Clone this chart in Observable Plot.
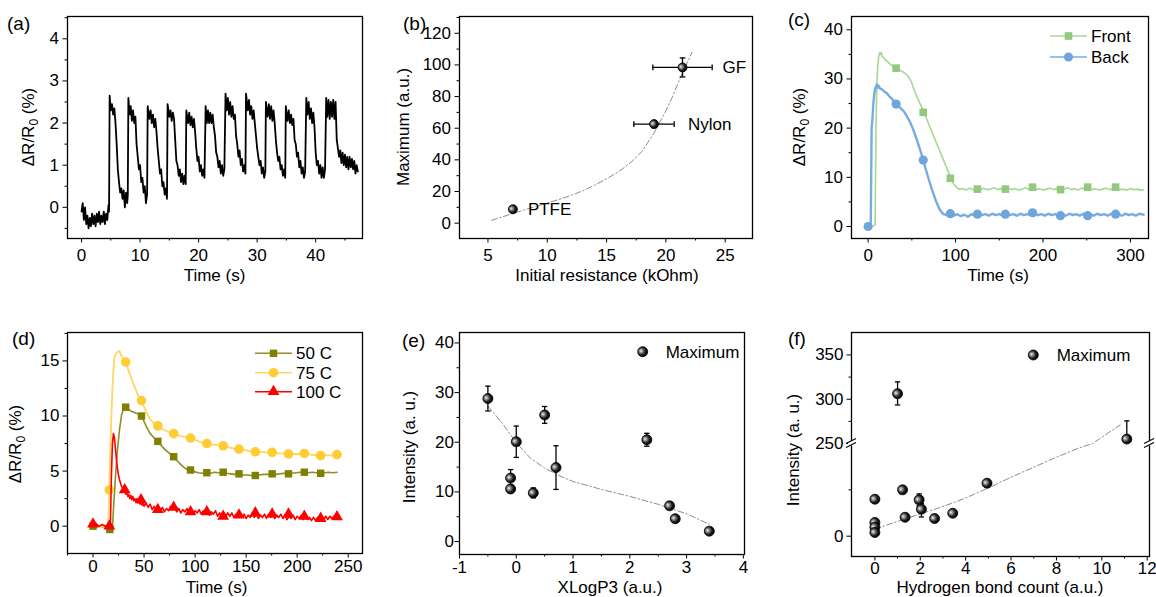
<!DOCTYPE html>
<html><head><meta charset="utf-8">
<script src="https://cdn.jsdelivr.net/npm/d3@7"></script>
<script src="https://cdn.jsdelivr.net/npm/@observablehq/plot@0.6"></script>
<style>
html,body{margin:0;padding:0;background:#fff;}
#fig{position:relative;width:1156px;height:597px;overflow:hidden;background:#fff;}
.panel{position:absolute;}
.panel svg{display:block;max-width:none;}
</style></head><body><div id="fig"></div>
<script>
// ---------------- DATA ----------------
// (a) repeated response, [time s, dR/R0 %]
const aSignal = [
[0.0,-0.1],[0.2,0.1],[0.4,-0.3],[0.6,0.0],[0.8,-0.4],[1.0,-0.2],[1.2,-0.5],[1.4,-0.25],[1.6,-0.45],[1.8,-0.15],[2.0,-0.4],[2.2,-0.2],[2.4,-0.45],[2.6,-0.15],[2.8,-0.35],[3.0,-0.1],[3.2,-0.4],[3.4,-0.2],[3.6,-0.35],[3.8,-0.1],[4.0,-0.4],[4.2,-0.15],[4.4,-0.3],[4.6,0.05],[4.7,-0.1],
[4.8,2.65],[5.0,2.3],[5.2,2.45],[5.4,2.2],[5.6,2.35],[5.8,2.0],[6.0,1.5],[6.2,0.9],[6.4,0.6],[6.6,0.35],[6.8,0.45],[7.0,0.2],[7.2,0.4],[7.4,0.0],[7.6,0.35],[7.8,0.1],[7.9,0.3],
[8.0,2.6],[8.2,2.2],[8.4,2.4],[8.6,2.05],[8.8,2.3],[9.0,2.0],[9.2,2.15],[9.4,1.5],[9.6,1.2],[9.8,0.9],[10.0,1.0],[10.2,0.6],[10.4,0.7],[10.6,0.35],[10.8,0.5],[11.0,0.1],[11.2,0.3],
[11.3,2.4],[11.6,2.1],[11.8,2.3],[12.0,2.0],[12.2,2.2],[12.4,1.9],[12.6,2.1],[12.8,1.8],[13.0,1.4],[13.2,1.1],[13.4,0.8],[13.6,0.9],[13.8,0.5],[14.0,0.6],[14.2,0.3],[14.4,0.45],[14.6,0.2],
[14.7,2.45],[15.0,2.15],[15.2,2.3],[15.4,2.05],[15.6,2.25],[15.8,2.1],[16.0,1.6],[16.2,1.1],[16.4,1.0],[16.6,0.75],[16.8,0.9],[17.0,0.6],[17.2,0.8],[17.4,0.55],[17.6,0.75],[17.8,0.55],
[17.9,2.3],[18.2,2.0],[18.4,2.25],[18.6,1.95],[18.8,2.15],[19.0,1.9],[19.2,2.1],[19.4,1.8],[19.6,1.4],[19.8,1.1],[20.0,1.2],[20.2,0.85],[20.4,1.0],[20.6,0.75],[20.8,0.9],[21.0,0.7],
[21.2,2.4],[21.4,2.0],[21.6,2.3],[21.8,2.0],[22.0,2.25],[22.2,2.0],[22.4,2.2],[22.6,1.9],[22.8,1.7],[23.0,1.3],[23.2,1.2],[23.4,0.95],[23.6,1.1],[23.8,0.8],[24.0,1.0],[24.2,0.75],[24.4,0.9],
[24.6,2.7],[24.8,2.3],[25.0,2.6],[25.2,2.2],[25.4,2.5],[25.6,2.15],[25.8,2.4],[26.0,2.1],[26.2,2.2],[26.4,1.7],[26.6,1.5],[26.8,1.2],[27.0,1.35],[27.2,1.0],[27.4,1.15],[27.6,0.85],[27.8,1.0],[28.0,0.8],
[28.1,2.7],[28.4,2.3],[28.6,2.55],[28.8,2.2],[29.0,2.4],[29.2,2.1],[29.4,2.3],[29.6,2.0],[29.8,1.7],[30.0,1.4],[30.2,1.2],[30.4,1.0],[30.6,1.1],[30.8,0.8],[31.0,0.95],[31.2,0.7],[31.4,0.85],
[31.5,2.5],[31.8,2.15],[32.0,2.45],[32.2,2.1],[32.4,2.4],[32.6,2.05],[32.8,2.3],[33.0,2.0],[33.2,1.6],[33.4,1.3],[33.6,1.1],[33.8,1.2],[34.0,0.9],[34.2,1.0],[34.4,0.75],[34.6,0.9],[34.8,0.7],
[34.9,2.4],[35.2,2.05],[35.4,2.3],[35.6,2.0],[35.8,2.2],[36.0,1.95],[36.2,2.1],[36.4,1.6],[36.6,1.5],[36.8,1.2],[37.0,1.3],[37.2,0.95],[37.4,1.1],[37.6,0.8],[37.8,0.95],[38.0,0.7],[38.2,0.85],
[38.4,2.6],[38.6,2.2],[38.8,2.5],[39.0,2.1],[39.2,2.35],[39.4,2.0],[39.6,2.25],[39.8,1.9],[40.0,1.3],[40.2,1.0],[40.4,1.1],[40.6,0.8],[40.8,1.0],[41.0,0.7],[41.2,0.95],[41.4,0.7],[41.6,0.9],
[41.8,2.6],[42.0,2.15],[42.2,2.55],[42.4,2.1],[42.6,2.5],[42.8,2.15],[43.0,2.55],[43.2,2.1],[43.4,2.5],[43.6,1.6],[43.8,1.4],[44.0,1.2],[44.2,1.35],[44.4,1.05],[44.6,1.3],[44.8,1.0],[45.0,1.25],[45.2,0.95],[45.4,1.2],[45.6,0.9],[45.8,1.2],[46.0,0.95],[46.2,1.15],[46.4,0.9],[46.6,1.1],[46.8,0.8],[47.0,1.0],[47.2,0.85]
];

// (b) Maximum vs initial resistance
const bNames = ["PTFE", "Nylon", "GF"];
const bResistance = [7.1, 19.0, 21.4];
const bMaximum = [8.8, 62.6, 98.4];
const bResErr = [0.0, 1.7, 2.5];
const bMaxErr = [0.0, 2.2, 6.0];
const bFit = [[5.3,1.8],[6,3.5],[7,5.8],[8,8.2],[9,10.5],[10,12.8],[11,15.0],[12,17.5],[13,20.5],[14,24],[15,28],[16,32.5],[17,38],[18,45.5],[19,57],[19.5,64],[20,71],[20.5,79],[21,88],[21.5,97],[22,104.5],[22.2,108]];

// (c) Front / Back, [time s, dR/R0 %]
const cFront = [[0,0],[4,0],[8,0.3],[9,20],[10,29],[11,32.5],[12,34.5],[13,35.3],[14,35.0],[15,35.4],[16,34.6],[18,34.3],[20,33.8],[22,33.6],[24,33.2],[26,32.9],[28,32.6],[30,32.4],[32,32.2],[35,31.9],[38,31.6],[41,31.3],[44,30.9],[47,30.2],[50,29.2],[53,27.6],[56,26.3],[59,25.1],[62,24.0],[65,22.8],[68,21.4],[71,20.0],[74,18.8],[77,17.5],[80,16.2],[83,14.9],[86,13.6],[89,12.3],[92,11.0],[95,9.7],[98,8.6],[101,8.0],[104,7.6],
[108,7.7],[112,7.4],[116,7.8],[120,7.5],[124,7.7],[128,7.4],[132,7.8],[136,7.5],[140,7.6],[144,7.9],[148,7.5],[152,7.7],[156,7.4],[160,7.8],[164,7.5],[168,7.7],[172,7.4],[176,7.6],[180,7.9],[184,7.5],[188,7.8],[192,7.5],[196,7.7],[200,7.4],[204,7.6],[208,7.8],[212,7.5],[216,7.7],[220,7.4],[224,7.6],[228,7.9],[232,7.5],[236,7.7],[240,7.4],[244,7.8],[248,7.6],[252,7.9],[256,7.5],[260,7.7],[264,7.4],[268,7.6],[272,7.8],[276,7.5],[280,7.7],[284,7.9],[288,7.5],[292,7.6],[296,7.4],[300,7.7],[304,7.5],[308,7.6],[312,7.4],[315,7.5]];
const cBack = [[0,0],[3,0],[3.5,10],[4,20],[5,22],[6,25],[7,27],[8,28],[9,28.5],[10,28.9],[11,28.2],[12,28.6],[14,28.0],[16,27.9],[18,27.5],[20,27.3],[22,27.0],[24,26.5],[26,26.2],[28,25.8],[30,25.3],[32,24.9],[34,24.6],[36,24.3],[38,23.9],[40,23.6],[42,23.1],[44,22.5],[46,21.9],[48,21.2],[50,20.4],[52,19.5],[55,18.0],[58,16.4],[60,15.3],[63,13.5],[66,11.6],[70,9.2],[74,7.0],[78,5.0],[82,3.4],[86,2.5],[90,2.3],
[94,2.6],[98,2.2],[102,2.5],[106,2.1],[110,2.4],[114,2.0],[118,2.5],[122,2.2],[126,2.6],[130,2.3],[134,2.5],[138,2.2],[142,2.6],[146,2.3],[150,2.5],[154,2.2],[158,2.6],[162,2.3],[166,2.5],[170,2.2],[174,2.6],[178,2.3],[182,2.5],[186,2.4],[190,2.8],[194,2.3],[198,2.5],[202,2.2],[206,2.6],[210,2.3],[214,2.5],[218,2.2],[222,2.4],[226,2.2],[230,2.6],[234,2.3],[238,2.5],[242,2.2],[246,2.6],[250,2.3],[254,2.5],[258,2.2],[262,2.6],[266,2.3],[270,2.5],[274,2.2],[278,2.6],[282,2.4],[286,2.5],[290,2.2],[294,2.6],[298,2.3],[302,2.5],[306,2.2],[310,2.6],[315,2.4]];
const cFrontMarks = [[32,32.2],[63,23.2],[94,9.8],[125,7.6],[157,7.6],[188,8.0],[220,7.5],[251,8.0],[283,8.0]];
const cBackMarks = [[0,0],[32,24.9],[63,13.5],[94,2.6],[125,2.5],[157,2.5],[188,2.8],[220,2.2],[251,2.2],[283,2.5]];

// (d) temperature series
const d50 = [[0,0],[5,0.0],[10,-0.05],[15,-0.1],[17,-0.3],[19,-0.25],[20,1.5],[22,4.5],[24,7],[26,8.8],[28,10.1],[30,10.7],[32,10.8],[35,10.6],[38,10.4],[41,10.3],[44,10.2],[47.5,10.0],[50,9.5],[53,8.9],[56,8.4],[60,8.0],[63.5,7.7],[67,7.3],[71,6.9],[75,6.6],[79,6.3],[83,5.9],[87,5.5],[91,5.2],[95.5,5.1],[99,4.95],[103,4.85],[107,4.8],[111.5,4.85],[115,4.8],[119,4.9],[123,4.85],[127.5,4.9],[131,4.8],[135,4.75],[139,4.7],[143,4.75],[147,4.65],[151,4.65],[155,4.6],[159,4.6],[163,4.65],[167,4.7],[171,4.7],[175.5,4.75],[179,4.7],[183,4.75],[187,4.8],[191.5,4.75],[195,4.8],[199,4.85],[203,4.9],[207,4.9],[211,4.85],[215,4.9],[219,4.85],[223,4.8],[227,4.85],[231,4.9],[235,4.85],[239,4.9]];
const d75 = [[0,0],[4,0.05],[8,-0.05],[12,0.0],[15,0.1],[15.8,3.3],[17,7],[18,10],[19,12.5],[20,14.2],[21,15.2],[22,15.6],[24,15.8],[26,15.9],[27,15.6],[29,15.3],[32,14.9],[35,14.1],[38,13.3],[41,12.6],[44,11.9],[47.5,11.4],[50,10.8],[53,10.2],[56,9.7],[60,9.3],[63.5,9.1],[68,8.8],[73,8.6],[79,8.4],[85,8.2],[90,8.1],[95.5,8.0],[101,7.8],[106,7.6],[111.5,7.5],[117,7.4],[122,7.35],[127.5,7.3],[133,7.15],[138,7.05],[143,7.0],[149,6.9],[154,6.8],[159,6.75],[165,6.75],[170,6.7],[175.5,6.7],[181,6.6],[186,6.6],[191.5,6.55],[197,6.55],[202,6.55],[207,6.6],[213,6.5],[218,6.45],[223,6.4],[228,6.45],[233,6.4],[239,6.45]];
const d100 = [[0,0.1],[3,0.2],[6,0.0],[9,0.15],[12,0.0],[15,0.1],[17,0.1],[18,4.5],[19,7.5],[20,8.4],[21,8.0],[22,7.0],[23,6.0],[24,5.2],[25,4.6],[26,4.2],[27,3.9],[28,3.6],[29,3.5],[30,3.2],[31,3.4],[32,2.9],[33,3.1],[34,2.7],[35,2.9],[36,2.5],[37,2.8],[38,2.4],[39,2.7],[40,2.3],[41,2.5],[42,2.2],[43,2.5],[44,2.1],[45,2.4],[46,2.0],[47,2.4],[48,1.9],[49,2.2],[50,1.8],[52,2.1],[54,1.7],[56,2.0],[58,1.5],[60,1.8],[62,1.4],[64,1.7],[66,1.4],[68,1.7],[70,1.3],[72,1.6],[74,1.4],[76,1.8],[78,1.5],[80,1.7],[82,1.3],[84,1.6],[86,1.2],[88,1.5],[90,1.3],[92,1.6],[94,1.2],[96,1.5],[98,1.1],[100,1.4],[102,1.2],[104,1.5],[106,1.1],[108,1.4],[110,1.2],[112,1.5],[114,1.0],[116,1.3],[118,1.1],[120,1.4],[122,0.9],[124,1.2],[126,0.8],[128,1.2],[130,0.9],[132,1.2],[134,0.9],[136,1.2],[138,0.8],[140,1.1],[142,0.9],[144,1.2],[146,0.8],[148,1.1],[150,0.7],[152,1.0],[154,0.8],[156,1.2],[158,0.8],[160,1.1],[162,0.7],[164,1.0],[166,0.8],[168,1.1],[170,0.7],[172,1.1],[174,0.8],[176,1.0],[178,0.7],[180,1.0],[182,0.8],[184,1.1],[186,0.7],[188,1.0],[190,0.6],[192,0.9],[194,0.7],[196,1.0],[198,0.6],[200,0.9],[202,0.7],[204,1.0],[206,0.6],[208,0.9],[210,0.6],[212,0.8],[214,0.5],[216,0.8],[218,0.5],[220,0.8],[222,0.6],[224,0.9],[226,0.6],[228,0.9],[230,0.6],[232,0.9],[234,0.7],[236,0.9],[238,0.7]];
const d50Marks = [[0,0],[16.5,-0.3],[32,10.8],[47.5,10.0],[63.5,7.7],[79,6.3],[95.5,5.1],[111.5,4.85],[127.5,4.9],[143,4.75],[159,4.6],[175.5,4.75],[191.5,4.75],[207,4.9],[223,4.8]];
const d75Marks = [[16,3.3],[32,14.9],[47.5,11.4],[63.5,9.1],[79,8.4],[95.5,8.0],[111.5,7.5],[127.5,7.3],[143,7.0],[159,6.75],[175.5,6.7],[191.5,6.55],[207,6.6],[223,6.4],[239,6.5]];
const d100Marks = [[0,0.2],[16,0.0],[31,3.3],[47,2.4],[63.5,1.5],[79,1.7],[95.5,1.3],[111.5,1.3],[127.5,0.9],[143,1.0],[159,1.2],[175.5,1.1],[191.5,1.1],[207,0.9],[223,0.7],[239,0.85]];

// (e) Intensity vs XLogP3
const eXLogP3 = [-0.5, -0.1, -0.1, 0.0, 0.3, 0.5, 0.7, 2.3, 2.7, 2.8, 3.4];
const eIntensity = [28.8, 12.8, 10.6, 20.1, 9.8, 25.5, 14.9, 20.5, 7.2, 4.6, 2.1];
const eError = [2.5, 1.7, 0.8, 3.15, 1.0, 1.7, 4.4, 1.3, 0.4, 0.4, 0.2];
const eFit = [[-0.5,27.3],[-0.25,23.9],[0,19.9],[0.25,16.8],[0.5,14.8],[0.75,13.3],[1,12.1],[1.5,10.5],[2,9.1],[2.5,7.5],[3,5.6],[3.4,3.5]];

// (f) Intensity vs hydrogen bond count (broken axis 250)
const fHBond = [0, 0, 0, 0, 1.0, 1.22, 1.33, 1.95, 2.05, 2.63, 3.43, 4.94, 11.1];
const fIntensity = [99.7, 36.9, 24.3, 10, 306.2, 125, 51, 98, 72.8, 47.7, 62, 142.9, 255];
const fErrLow = [0, 0, 0, 0, 12.7, 0, 0, 16, 21, 0, 0, 0, 0];
const fErrHigh = [0, 0, 0, 0, 13.4, 0, 0, 16, 15, 0, 0, 0, 20.5];
const fFit = [[0,18.9],[1,40],[2,60],[3,80],[4,103],[5,130],[6,159],[7,186],[8,213],[9,238],[9.6,250],[10,257],[10.4,264],[10.8,271]];

// ---------------- HELPERS ----------------
const FONT = '"Liberation Sans", Arial, Helvetica, sans-serif';
const FS = 17;
const fmt = d => String(d);
const capH = {draw(ctx, size) { const w = Math.sqrt(size) / 2; ctx.moveTo(-w, 0); ctx.lineTo(w, 0); }};
const capV = {draw(ctx, size) { const w = Math.sqrt(size) / 2; ctx.moveTo(0, -w); ctx.lineTo(0, w); }};
const px = d => d[0], py = d => d[1];

function buildPanel(p) {
  const [ml, mr, mt, mb] = p.margin;
  const y = {domain: p.yDomain, label: null};
  if (p.yRange) { y.type = "linear"; y.range = p.yRange; }
  const plot = Plot.plot({
    width: p.width, height: p.height,
    marginLeft: ml, marginRight: mr, marginTop: mt, marginBottom: mb,
    style: {fontFamily: FONT, fontSize: FS + "px", color: "#000", background: "none", overflow: "visible"},
    x: {domain: p.xDomain, label: null},
    y,
    marks: [
      Plot.axisX({ticks: p.xMinor, tickSize: 2.5, tickFormat: () => "", label: null}),
      Plot.axisX({ticks: p.xTicks, tickSize: 4.5, tickPadding: p.xPad, tickFormat: fmt, fontSize: FS, label: null}),
      Plot.axisY({ticks: p.yMinor, tickSize: 2.5, tickFormat: () => "", label: null}),
      Plot.axisY({ticks: p.yTicks, tickSize: 4.5, tickPadding: p.yPad, tickFormat: fmt, fontSize: FS, label: null}),
      ...p.marks,
      Plot.frame({stroke: "#000", strokeWidth: 1.3})
    ]
  });
  const div = document.createElement("div");
  div.className = "panel";
  div.style.left = p.left + "px"; div.style.top = p.top + "px";
  div.style.width = p.width + "px"; div.style.height = p.height + "px";
  div.appendChild(plot);
  document.getElementById("fig").appendChild(div);
  return plot;
}

function addText(svg, x, y, parts, opt = {}) {
  const t = d3.select(svg).append("text")
    .attr("transform", `translate(${x},${y})` + (opt.rotate ? ` rotate(${opt.rotate})` : ""))
    .attr("text-anchor", opt.anchor || "middle")
    .attr("font-size", opt.size || FS).attr("font-family", FONT).attr("fill", "#000");
  let shifted = false;
  for (const part of parts) {
    if (typeof part === "string") {
      const s = t.append("tspan").text(part);
      if (shifted) { s.attr("dy", -4); shifted = false; }
    } else {
      t.append("tspan").attr("dy", 4).attr("font-size", 12).text(part.sub);
      shifted = true;
    }
  }
}

function addBall(svg, id) {
  const g = d3.select(svg).insert("defs", ":first-child").append("radialGradient")
    .attr("id", id).attr("cx", "0.42").attr("cy", "0.45").attr("r", "0.6").attr("fx", "0.3").attr("fy", "0.42");
  g.append("stop").attr("offset", "0").attr("stop-color", "#f2f2f2");
  g.append("stop").attr("offset", "0.3").attr("stop-color", "#8a8a8a");
  g.append("stop").attr("offset", "0.65").attr("stop-color", "#1a1a1a");
  g.append("stop").attr("offset", "1").attr("stop-color", "#000");
}

function legendRow(svg, o) {
  const s = d3.select(svg);
  if (o.x1 != null) {
    s.append("line").attr("x1", o.x1).attr("x2", o.x2).attr("y1", o.y).attr("y2", o.y)
      .attr("stroke", o.lineColor).attr("stroke-width", 1.5);
  }
  const cx = o.x1 != null ? (o.x1 + o.x2) / 2 : o.cx;
  s.append("path").attr("d", d3.symbol(o.symbol, Math.PI * o.r * o.r)())
    .attr("transform", `translate(${cx},${o.y})`).attr("fill", o.fill)
    .attr("stroke", o.stroke || "none").attr("stroke-width", 0.8);
  s.append("text").attr("x", o.textX).attr("y", o.y).attr("dy", "0.36em").attr("text-anchor", "start")
    .attr("font-size", FS).attr("font-family", FONT).attr("fill", "#000").text(o.label);
}

const DASHDOT = "6,2.5,1.5,2.5";
const FITCOL = "#8c8c8c";

// ---------------- PANEL (a) ----------------
const pa = buildPanel({
  left: 0, top: 0, width: 380, height: 300, margin: [67, 18, 16, 62],
  xDomain: [-2.4, 48], xTicks: [0, 10, 20, 30, 40], xMinor: [5, 15, 25, 35, 45], xPad: 6,
  yDomain: [-0.74, 4.53], yTicks: [0, 1, 2, 3, 4], yMinor: [-0.5, 0.5, 1.5, 2.5, 3.5, 4.5], yPad: 4,
  marks: [Plot.line(aSignal, {x: px, y: py, stroke: "#000", strokeWidth: 1.8})]
});
addText(pa, 7, 30, ["(a)"], {anchor: "start", size: 19});
addText(pa, 214.5, 281, ["Time (s)"]);
addText(pa, 34, 127, ["ΔR/R", {sub: "0"}, " (%)"], {rotate: -90});

// ---------------- PANEL (b) ----------------
const bRows = bNames.map((name, i) => ({name, x: bResistance[i], y: bMaximum[i], xe: bResErr[i], ye: bMaxErr[i]}));
const bErr = bRows.filter(d => d.xe > 0);
const bLabelDx = {PTFE: 15, Nylon: 34, GF: 40};
const pb = buildPanel({
  left: 380, top: 0, width: 380, height: 300, margin: [79, 8, 16, 62],
  xDomain: [2.6, 27.3], xTicks: [5, 10, 15, 20, 25], xMinor: [7.5, 12.5, 17.5, 22.5], xPad: 6,
  yDomain: [-9.7, 130.6], yTicks: [0, 20, 40, 60, 80, 100, 120], yMinor: [10, 30, 50, 70, 90, 110, 130], yPad: 4,
  marks: [
    Plot.line(bFit, {x: px, y: py, stroke: FITCOL, strokeWidth: 1, strokeDasharray: DASHDOT}),
    Plot.ruleY(bErr, {y: "y", x1: d => d.x - d.xe, x2: d => d.x + d.xe, stroke: "#000", strokeWidth: 1.3}),
    Plot.ruleX(bErr, {x: "x", y1: d => d.y - d.ye, y2: d => d.y + d.ye, stroke: "#000", strokeWidth: 1.3}),
    Plot.dot(bErr, {x: d => d.x - d.xe, y: "y", symbol: capV, r: 3.2, stroke: "#000", fill: "none", strokeWidth: 1.3}),
    Plot.dot(bErr, {x: d => d.x + d.xe, y: "y", symbol: capV, r: 3.2, stroke: "#000", fill: "none", strokeWidth: 1.3}),
    Plot.dot(bErr, {x: "x", y: d => d.y - d.ye, symbol: capH, r: 3.2, stroke: "#000", fill: "none", strokeWidth: 1.3}),
    Plot.dot(bErr, {x: "x", y: d => d.y + d.ye, symbol: capH, r: 3.2, stroke: "#000", fill: "none", strokeWidth: 1.3}),
    Plot.dot(bRows, {x: "x", y: "y", r: 4.5, fill: "url(#ball-b)", stroke: "#000", strokeWidth: 0.8}),
    ...bNames.map(n => Plot.text(bRows.filter(d => d.name === n), {x: "x", y: "y", text: "name", dx: bLabelDx[n], textAnchor: "start", fontSize: FS, fill: "#000"}))
  ]
});
addBall(pb, "ball-b");
addText(pb, 23, 30, ["(b)"], {anchor: "start", size: 19});
addText(pb, 227, 281, ["Initial resistance (kOhm)"]);
addText(pb, 29, 127, ["Maximum (a.u.)"], {rotate: -90});

// ---------------- PANEL (c) ----------------
const GREEN_L = "#a7d795", GREEN_M = "#92c97e", BLUE_L = "#78acdf", BLUE_M = "#6ea6dc";
const pc = buildPanel({
  left: 760, top: 0, width: 396, height: 300, margin: [91, 8, 16, 62],
  xDomain: [-19, 320.6], xTicks: [0, 100, 200, 300], xMinor: [50, 150, 250], xPad: 6,
  yDomain: [-2.44, 42.7], yTicks: [0, 10, 20, 30, 40], yMinor: [5, 15, 25, 35], yPad: 4,
  marks: [
    Plot.line(cFront, {x: px, y: py, stroke: GREEN_L, strokeWidth: 1.6}),
    Plot.dot(cFrontMarks, {x: px, y: py, symbol: "square", r: 4.3, fill: GREEN_M}),
    Plot.line(cBack, {x: px, y: py, stroke: BLUE_L, strokeWidth: 2.4}),
    Plot.dot(cBackMarks, {x: px, y: py, symbol: "circle", r: 4.6, fill: BLUE_M})
  ]
});
addText(pc, 28, 26, ["(c)"], {anchor: "start", size: 19});
addText(pc, 238, 281, ["Time (s)"]);
addText(pc, 45, 127, ["ΔR/R", {sub: "0"}, " (%)"], {rotate: -90});
legendRow(pc, {x1: 290, x2: 327, y: 36, lineColor: GREEN_L, fill: GREEN_M, symbol: d3.symbolSquare, r: 4.3, textX: 331, label: "Front"});
legendRow(pc, {x1: 290, x2: 327, y: 57, lineColor: BLUE_L, fill: BLUE_M, symbol: d3.symbolCircle, r: 4.6, textX: 331, label: "Back"});

// ---------------- PANEL (d) ----------------
const OLIVE_L = "#8e8e2a", OLIVE_M = "#808000", YEL_L = "#ffd564", YEL_M = "#ffcc33", RED = "#ff0000";
const pd = buildPanel({
  left: 0, top: 300, width: 380, height: 297, margin: [67, 18, 32, 44],
  xDomain: [-25, 264], xTicks: [0, 50, 100, 150, 200, 250], xMinor: [-25, 25, 75, 125, 175, 225], xPad: 2,
  yDomain: [-2.48, 17.58], yTicks: [0, 5, 10, 15], yMinor: [2.5, 7.5, 12.5, 17.5], yPad: 3.5,
  marks: [
    Plot.line(d50, {x: px, y: py, stroke: OLIVE_L, strokeWidth: 1.6}),
    Plot.line(d75, {x: px, y: py, stroke: YEL_L, strokeWidth: 1.8}),
    Plot.dot(d50Marks, {x: px, y: py, symbol: "square", r: 4.2, fill: OLIVE_M}),
    Plot.dot(d75Marks, {x: px, y: py, symbol: "circle", r: 4.8, fill: YEL_M}),
    Plot.line(d100, {x: px, y: py, stroke: RED, strokeWidth: 1.6}),
    Plot.dot(d100Marks, {x: px, y: py, symbol: "triangle", r: 4.4, fill: RED})
  ]
});
addText(pd, 12, 45, ["(d)"], {anchor: "start", size: 19});
addText(pd, 216.5, 292.5, ["Time (s)"]);
addText(pd, 21, 144, ["ΔR/R", {sub: "0"}, " (%)"], {rotate: -90});
legendRow(pd, {x1: 255, x2: 292, y: 53.3, lineColor: OLIVE_L, fill: OLIVE_M, symbol: d3.symbolSquare, r: 4.2, textX: 296, label: "50 C"});
legendRow(pd, {x1: 255, x2: 292, y: 72.7, lineColor: YEL_L, fill: YEL_M, symbol: d3.symbolCircle, r: 4.8, textX: 296, label: "75 C"});
legendRow(pd, {x1: 255, x2: 292, y: 91.7, lineColor: RED, fill: RED, symbol: d3.symbolTriangle, r: 4.4, textX: 296, label: "100 C"});

// ---------------- PANEL (e) ----------------
const eRows = eXLogP3.map((x, i) => ({x, y: eIntensity[i], e: eError[i]}));
const pe = buildPanel({
  left: 380, top: 300, width: 380, height: 297, margin: [79, 16, 32, 43],
  xDomain: [-1, 4.02], xTicks: [-1, 0, 1, 2, 3, 4], xMinor: [-0.5, 0.5, 1.5, 2.5, 3.5], xPad: 2,
  yDomain: [-2.6, 42.1], yTicks: [0, 10, 20, 30, 40], yMinor: [5, 15, 25, 35], yPad: 1,
  marks: [
    Plot.line(eFit, {x: px, y: py, stroke: FITCOL, strokeWidth: 1, strokeDasharray: DASHDOT}),
    Plot.ruleX(eRows, {x: "x", y1: d => d.y - d.e, y2: d => d.y + d.e, stroke: "#000", strokeWidth: 1.3}),
    Plot.dot(eRows, {x: "x", y: d => d.y - d.e, symbol: capH, r: 3, stroke: "#000", fill: "none", strokeWidth: 1.3}),
    Plot.dot(eRows, {x: "x", y: d => d.y + d.e, symbol: capH, r: 3, stroke: "#000", fill: "none", strokeWidth: 1.3}),
    Plot.dot(eRows, {x: "x", y: "y", r: 5, fill: "url(#ball-e)", stroke: "#000", strokeWidth: 0.8})
  ]
});
addBall(pe, "ball-e");
addText(pe, 22, 47, ["(e)"], {anchor: "start", size: 19});
addText(pe, 230, 292.5, ["XLogP3 (a.u.)"]);
addText(pe, 35, 147, ["Intensity (a. u.)"], {rotate: -90});
legendRow(pe, {cx: 262.7, y: 51.7, fill: "url(#ball-e)", stroke: "#000", symbol: d3.symbolCircle, r: 5, textX: 285.7, label: "Maximum"});

// ---------------- PANEL (f) ----------------
const fRows = fHBond.map((x, i) => ({x, y: fIntensity[i], lo: fErrLow[i], hi: fErrHigh[i]}));
const fErr = fRows.filter(d => d.lo > 0 || d.hi > 0);
const BREAK = 250;
const pf = buildPanel({
  left: 760, top: 300, width: 396, height: 297, margin: [91, 7, 32, 41],
  xDomain: [-1.03, 12.1], xTicks: [0, 2, 4, 6, 8, 10, 12], xMinor: [1, 3, 5, 7, 9, 11], xPad: 1,
  yDomain: [-54, BREAK, 375], yRange: [255.7, 143, 32.3], yTicks: [0, 250, 300, 350], yMinor: [125, 275, 325], yPad: 3.5,
  marks: [
    Plot.line(fFit, {x: px, y: py, stroke: FITCOL, strokeWidth: 1, strokeDasharray: DASHDOT}),
    Plot.ruleX(fErr, {x: "x", y1: d => d.y - d.lo, y2: d => d.y + d.hi, stroke: "#000", strokeWidth: 1.3}),
    Plot.dot(fErr.filter(d => d.lo > 0), {x: "x", y: d => d.y - d.lo, symbol: capH, r: 3, stroke: "#000", fill: "none", strokeWidth: 1.3}),
    Plot.dot(fErr.filter(d => d.hi > 0), {x: "x", y: d => d.y + d.hi, symbol: capH, r: 3, stroke: "#000", fill: "none", strokeWidth: 1.3}),
    Plot.dot(fRows, {x: "x", y: "y", r: 5, fill: "url(#ball-f)", stroke: "#000", strokeWidth: 0.8})
  ]
});
addBall(pf, "ball-f");
addText(pf, 28, 45, ["(f)"], {anchor: "start", size: 19});
addText(pf, 240, 292.5, ["Hydrogen bond count (a.u.)"]);
addText(pf, 39, 150, ["Intensity (a. u.)"], {rotate: -90});
legendRow(pf, {cx: 273.3, y: 55, fill: "url(#ball-f)", stroke: "#000", symbol: d3.symbolCircle, r: 5, textX: 296.7, label: "Maximum"});
// axis break marks on both frame sides
{
  const yb = pf.scale("y").apply(BREAK);
  const s = d3.select(pf);
  for (const xb of [91, 396 - 7]) {
    s.append("rect").attr("x", xb - 3).attr("y", yb - 2.5).attr("width", 6).attr("height", 5).attr("fill", "#fff");
    for (const off of [-2, 2]) {
      s.append("line").attr("x1", xb - 5).attr("y1", yb + off + 2.5).attr("x2", xb + 5).attr("y2", yb + off - 2.5)
        .attr("stroke", "#000").attr("stroke-width", 1.2);
    }
  }
}
</script></body></html>
